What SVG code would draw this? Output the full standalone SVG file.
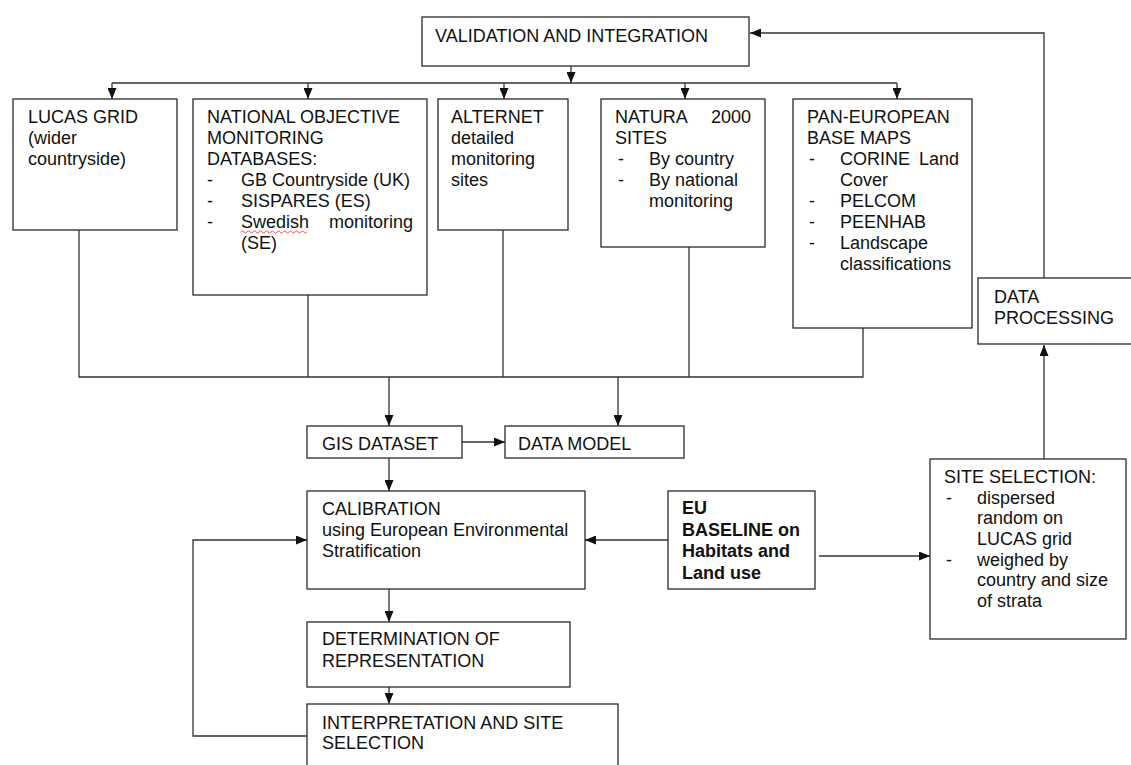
<svg xmlns="http://www.w3.org/2000/svg" width="1131" height="765" viewBox="0 0 1131 765">
<style>
  .box { fill: #fff; stroke: #2a2a2a; stroke-width: 1.3; }
  .t { font-family: "Liberation Sans", Arial, sans-serif; font-size: 18px; fill: #111; }
  .b { font-weight: bold; }
  .c { fill: none; stroke: #333; stroke-width: 1.3; }
  .ca { fill: none; stroke: #333; stroke-width: 1.3; marker-end: url(#ah); }
</style>
<defs>
  <marker id="ah" markerUnits="userSpaceOnUse" markerWidth="11" markerHeight="9" refX="11" refY="4.5" orient="auto">
    <path d="M0,0 L11,4.5 L0,9 z" fill="#111"/>
  </marker>
</defs>
<rect width="1131" height="765" fill="#fff"/>

<g id="connectors">
  <path class="ca" d="M571,66 V83"/>
  <path class="c" d="M112,83 H897"/>
  <path class="ca" d="M112,83 V99"/>
  <path class="ca" d="M308,83 V99"/>
  <path class="ca" d="M504,83 V99"/>
  <path class="ca" d="M685,83 V99"/>
  <path class="ca" d="M897,83 V99"/>
  <path class="c" d="M79,230 V377 H863 V328"/>
  <path class="c" d="M308,295 V377"/>
  <path class="c" d="M503,230 V377"/>
  <path class="c" d="M689,247 V377"/>
  <path class="ca" d="M389,377 V426"/>
  <path class="ca" d="M618,377 V426"/>
  <path class="ca" d="M462,442 H505"/>
  <path class="ca" d="M389,458 V491"/>
  <path class="ca" d="M389,589 V622"/>
  <path class="ca" d="M389,687 V704"/>
  <path class="ca" d="M307,736 H193 V540 H307"/>
  <path class="ca" d="M668,540 H585"/>
  <path class="ca" d="M819,556 H930"/>
  <path class="ca" d="M1044,459 V345"/>
  <path class="ca" d="M1044,278 V33 H750"/>
</g>

<g id="validation">
  <rect class="box" x="422" y="17" width="327" height="49"/>
  <text class="t" x="435" y="42">VALIDATION AND INTEGRATION</text>
</g>

<g id="lucas">
  <rect class="box" x="13" y="99" width="164" height="131"/>
  <text class="t" x="28" y="123">LUCAS GRID</text>
  <text class="t" x="28" y="144">(wider</text>
  <text class="t" x="28" y="165">countryside)</text>
</g>

<g id="national">
  <rect class="box" x="193" y="99" width="234" height="196"/>
  <text class="t" x="207" y="123">NATIONAL OBJECTIVE</text>
  <text class="t" x="207" y="144">MONITORING</text>
  <text class="t" x="207" y="165">DATABASES:</text>
  <text class="t" x="207" y="186">-</text><text class="t" x="241" y="186">GB Countryside (UK)</text>
  <text class="t" x="207" y="207">-</text><text class="t" x="241" y="207">SISPARES (ES)</text>
  <text class="t" x="207" y="228">-</text><text class="t" x="241" y="228">Swedish</text><text class="t" x="413" y="228" text-anchor="end">monitoring</text>
  <path d="M241,232 q1.5,-2 3,0 t3,0 t3,0 t3,0 t3,0 t3,0 t3,0 t3,0 t3,0 t3,0 t3,0 t3,0 t3,0 t3,0 t3,0 t3,0 t3,0 t3,0 t3,0 t3,0 t3,0 t3,0" fill="none" stroke="#e03030" stroke-width="0.8"/>
  <text class="t" x="241" y="249">(SE)</text>
</g>

<g id="alternet">
  <rect class="box" x="438" y="99" width="130" height="131"/>
  <text class="t" x="451" y="123">ALTERNET</text>
  <text class="t" x="451" y="144">detailed</text>
  <text class="t" x="451" y="165">monitoring</text>
  <text class="t" x="451" y="186">sites</text>
</g>

<g id="natura">
  <rect class="box" x="601" y="99" width="164" height="148"/>
  <text class="t" x="615" y="123">NATURA</text><text class="t" x="751" y="123" text-anchor="end">2000</text>
  <text class="t" x="615" y="144">SITES</text>
  <text class="t" x="618" y="165">-</text><text class="t" x="649" y="165">By country</text>
  <text class="t" x="618" y="186">-</text><text class="t" x="649" y="186">By national</text>
  <text class="t" x="649" y="207">monitoring</text>
</g>

<g id="paneuropean">
  <rect class="box" x="793" y="99" width="179" height="229"/>
  <text class="t" x="807" y="123">PAN-EUROPEAN</text>
  <text class="t" x="807" y="144">BASE MAPS</text>
  <text class="t" x="809" y="165">-</text><text class="t" x="840" y="165">CORINE</text><text class="t" x="959" y="165" text-anchor="end">Land</text>
  <text class="t" x="840" y="186">Cover</text>
  <text class="t" x="809" y="207">-</text><text class="t" x="840" y="207">PELCOM</text>
  <text class="t" x="809" y="228">-</text><text class="t" x="840" y="228">PEENHAB</text>
  <text class="t" x="809" y="249">-</text><text class="t" x="840" y="249">Landscape</text>
  <text class="t" x="840" y="270">classifications</text>
</g>

<g id="dataprocessing">
  <rect class="box" x="978" y="278" width="170" height="66"/>
  <text class="t" x="994" y="303">DATA</text>
  <text class="t" x="994" y="324">PROCESSING</text>
</g>

<g id="gis">
  <rect class="box" x="307" y="426" width="155" height="32"/>
  <text class="t" x="322" y="450">GIS DATASET</text>
</g>

<g id="datamodel">
  <rect class="box" x="505" y="426" width="179" height="32"/>
  <text class="t" x="518" y="450">DATA MODEL</text>
</g>

<g id="calibration">
  <rect class="box" x="307" y="491" width="278" height="98"/>
  <text class="t" x="322" y="515">CALIBRATION</text>
  <text class="t" x="322" y="536">using European Environmental</text>
  <text class="t" x="322" y="557">Stratification</text>
</g>

<g id="eubaseline">
  <rect class="box" x="668" y="491" width="147" height="98"/>
  <text class="t b" x="682" y="514">EU</text>
  <text class="t b" x="682" y="536">BASELINE on</text>
  <text class="t b" x="682" y="557">Habitats and</text>
  <text class="t b" x="682" y="579">Land use</text>
</g>

<g id="siteselection">
  <rect class="box" x="930" y="459" width="196" height="180"/>
  <text class="t" x="944" y="483">SITE SELECTION:</text>
  <text class="t" x="946" y="504">-</text><text class="t" x="977" y="504">dispersed</text>
  <text class="t" x="977" y="524">random on</text>
  <text class="t" x="977" y="545">LUCAS grid</text>
  <text class="t" x="946" y="566">-</text><text class="t" x="977" y="566">weighed by</text>
  <text class="t" x="977" y="586">country and size</text>
  <text class="t" x="977" y="607">of strata</text>
</g>

<g id="determination">
  <rect class="box" x="307" y="622" width="263" height="65"/>
  <text class="t" x="322" y="645">DETERMINATION OF</text>
  <text class="t" x="322" y="667">REPRESENTATION</text>
</g>

<g id="interpretation">
  <rect class="box" x="307" y="704" width="311" height="80"/>
  <text class="t" x="322" y="729">INTERPRETATION AND SITE</text>
  <text class="t" x="322" y="749">SELECTION</text>
</g>
</svg>
